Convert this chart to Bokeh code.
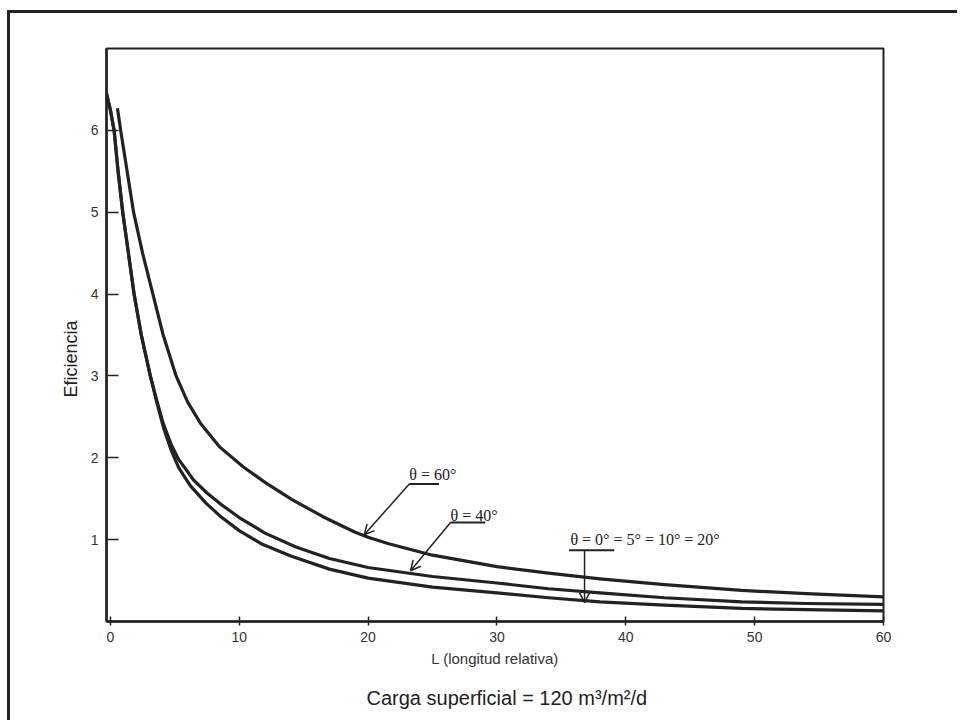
from bokeh.plotting import figure
from bokeh.models import Arrow, OpenHead, Label, FixedTicker, Title
from bokeh.embed import file_html
from bokeh.resources import INLINE

# --- data ---
x_60 = [0.55, 0.8, 1.3, 1.8, 2.5, 3.3, 4.1, 5.1, 6.0, 7.0, 8.5, 10.3, 12.0, 14.1, 16.5,
        19.0, 20.0, 21.6, 25.0, 30.0, 34.0, 38.0, 43.0, 49.0, 54.0, 60.0]
y_60 = [6.27, 6.0, 5.5, 5.0, 4.5, 4.0, 3.5, 3.0, 2.68, 2.42, 2.13, 1.89, 1.70, 1.49, 1.28,
        1.09, 1.03, 0.95, 0.81, 0.67, 0.59, 0.52, 0.45, 0.38, 0.34, 0.30]

x_40 = [-0.3, 0.0, 0.29, 0.6, 0.96, 1.4, 1.84, 2.4, 3.1, 3.6, 4.1, 4.7, 5.3, 6.5, 7.5, 8.6,
        10.0, 12.0, 14.4, 17.0, 20.0, 25.0, 30.0, 34.0, 38.0, 43.0, 49.0, 54.0, 60.0]
y_40 = [6.45, 6.25, 6.0, 5.5, 5.0, 4.5, 4.0, 3.5, 3.0, 2.7, 2.42, 2.17, 1.98, 1.72, 1.57, 1.43,
        1.27, 1.08, 0.91, 0.77, 0.66, 0.55, 0.47, 0.40, 0.35, 0.29, 0.24, 0.22, 0.21]

x_0 = [-0.3, 0.0, 0.29, 0.6, 0.96, 1.4, 1.84, 2.4, 3.1, 3.6, 4.1, 4.7, 5.3, 6.2, 7.4, 8.5,
       10.0, 11.7, 14.0, 17.0, 20.0, 25.0, 30.0, 34.0, 38.0, 43.0, 49.0, 54.0, 60.0]
y_0 = [6.45, 6.25, 6.0, 5.5, 5.0, 4.5, 4.0, 3.5, 3.0, 2.68, 2.38, 2.10, 1.88, 1.66, 1.45, 1.29,
       1.11, 0.95, 0.80, 0.64, 0.53, 0.42, 0.35, 0.29, 0.24, 0.20, 0.16, 0.145, 0.13]

x_ticks = [0, 10, 20, 30, 40, 50, 60]
y_ticks = [1, 2, 3, 4, 5, 6]

# (text, text x, text y, underline x0, x1, underline y, arrow tip x, tip y, arrow start x)
notes = [
    ("θ = 60°", 23.2, 1.80, 23.2, 25.5, 1.68, 19.7, 1.06, 23.2),
    ("θ = 40°", 26.4, 1.30, 26.4, 29.1, 1.21, 23.3, 0.62, 26.4),
    ("θ = 0° = 5° = 10° = 20°", 35.7, 1.00, 35.6, 39.1, 0.87, 36.8, 0.23, 36.8),
]

INK = "#222222"

p = figure(width=950, height=710, x_range=(-0.3, 60), y_range=(0, 7),
           output_backend="svg", toolbar_location=None,
           min_border_left=96, min_border_right=77, min_border_top=35, min_border_bottom=100)
p.styles = {"border-left": "3px solid #222", "border-top": "3px solid #222",
            "margin-left": "7px", "margin-top": "10px"}

p.grid.visible = False
p.outline_line_color = INK
p.outline_line_width = 2
p.background_fill_color = "white"
p.border_fill_color = "white"

for xs, ys in [(x_60, y_60), (x_40, y_40), (x_0, y_0)]:
    p.line(xs, ys, line_color=INK, line_width=3.2, line_join="round")

# axes
p.xaxis.ticker = FixedTicker(ticks=x_ticks)
p.yaxis.ticker = FixedTicker(ticks=y_ticks)
p.xaxis.minor_tick_line_color = None
p.yaxis.minor_tick_line_color = None
for ax in (p.xaxis, p.yaxis):
    ax.axis_line_width = 2.5
    ax.axis_line_color = INK
    ax.major_tick_line_color = INK
    ax.major_tick_line_width = 1.5
    ax.major_label_text_color = "#333333"
p.xaxis.major_tick_in = 5
p.xaxis.major_tick_out = 4
p.yaxis.major_tick_in = 12
p.yaxis.major_tick_out = 0
p.xaxis.major_label_text_font = "Liberation Sans"
p.xaxis.major_label_text_font_size = "14px"
p.yaxis.major_label_text_font = "Liberation Sans"
p.yaxis.major_label_text_font_size = "14px"
p.xaxis.major_label_standoff = 6
p.yaxis.major_label_standoff = 8

p.xaxis.axis_label = "L (longitud relativa)"
p.xaxis.axis_label_text_font = "Liberation Sans"
p.xaxis.axis_label_text_font_style = "normal"
p.xaxis.axis_label_text_font_size = "15px"
p.xaxis.axis_label_text_color = "#333333"
p.xaxis.axis_label_standoff = 5

# y-axis title as a side title, anchored from the bottom of the frame
p.add_layout(Title(text="Eficiencia", align="left",
                   text_font="Liberation Sans", text_font_size="18px",
                   text_font_style="normal", text_color="#222222",
                   offset=224, standoff=14), "left")

# annotations
for txt, tx, ty, ux0, ux1, uy, ax_, ay_, sx in notes:
    p.add_layout(Label(x=tx, y=ty, text=txt, text_font="Liberation Serif",
                       text_font_size="16px", text_color=INK,
                       text_baseline="middle", text_align="left"))
    p.segment(x0=[ux0], y0=[uy], x1=[ux1], y1=[uy], line_color=INK, line_width=2)
    p.add_layout(Arrow(end=OpenHead(size=10, line_color=INK, line_width=1.5),
                       x_start=sx, y_start=uy, x_end=ax_, y_end=ay_,
                       line_color=INK, line_width=1.5))

p.add_layout(Title(text="Carga superficial = 120 m³/m²/d", align="left",
                   text_font="Liberation Sans", text_font_size="20px",
                   text_font_style="normal", text_color="#222222",
                   offset=260, standoff=30), "below")

open("out.html", "w").write(file_html(p, INLINE))
